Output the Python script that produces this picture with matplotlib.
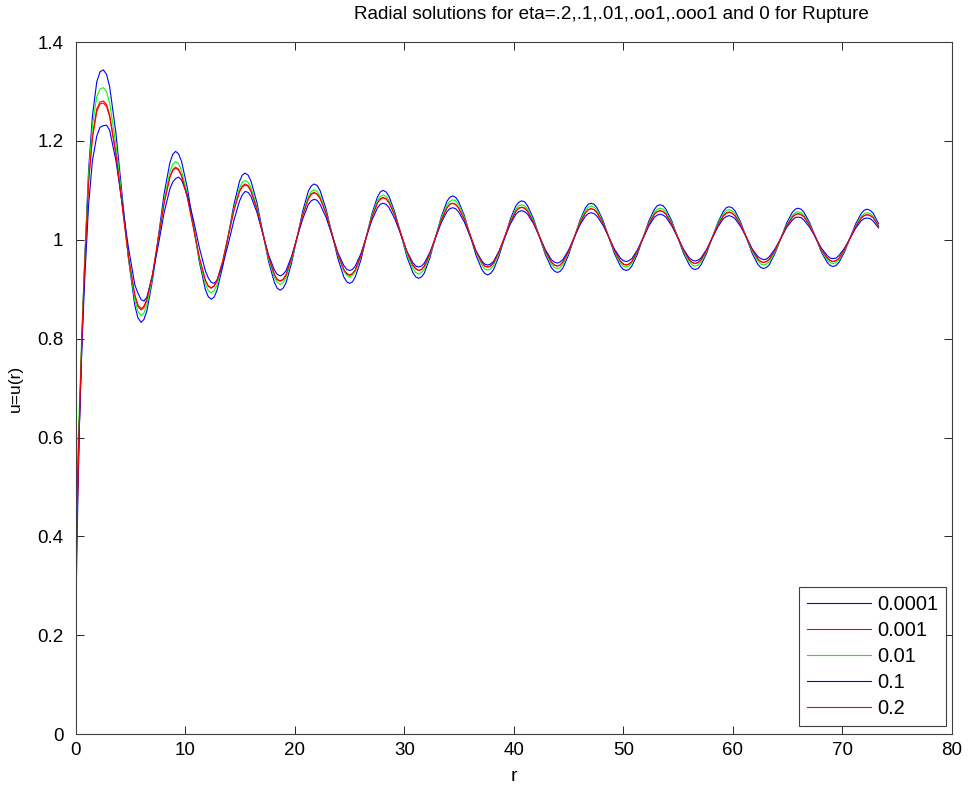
import matplotlib
matplotlib.use("Agg")
import matplotlib.pyplot as plt

plt.rcParams['font.family'] = ['Liberation Sans', 'DejaVu Sans']

r = [0, 0.15, 0.3, 0.55, 0.8, 1.15, 1.5, 1.9, 2.2,
     2.5, 2.79, 3.075, 3.65, 4.225, 4.8, 5.375, 5.66,
     5.95, 6.21, 6.475, 7.0, 7.525, 8.05, 8.575, 8.84,
     9.1, 9.37, 9.64, 10.18, 10.73, 11.27, 11.81, 12.08,
     12.35, 12.61, 12.87, 13.38, 13.9, 14.42, 14.93, 15.19,
     15.45, 15.72, 15.98, 16.52, 17.05, 17.58, 18.12, 18.38,
     18.65, 18.91, 19.17, 19.68, 20.2, 20.72, 21.23, 21.49,
     21.75, 22.02, 22.29, 22.83, 23.38, 23.92, 24.46, 24.73,
     25.0, 25.25, 25.51, 26.02, 26.53, 27.03, 27.54, 27.8,
     28.05, 28.32, 28.59, 29.13, 29.68, 30.22, 30.76, 31.03,
     31.3, 31.56, 31.82, 32.33, 32.85, 33.37, 33.88, 34.14,
     34.4, 34.67, 34.93, 35.47, 36.0, 36.53, 37.07, 37.33,
     37.6, 37.86, 38.12, 38.63, 39.15, 39.67, 40.18, 40.44,
     40.7, 40.97, 41.24, 41.78, 42.33, 42.87, 43.41, 43.68,
     43.95, 44.21, 44.47, 44.98, 45.5, 46.02, 46.53, 46.79,
     47.05, 47.32, 47.58, 48.12, 48.65, 49.18, 49.72, 49.98,
     50.25, 50.51, 50.77, 51.28, 51.8, 52.32, 52.83, 53.09,
     53.35, 53.62, 53.88, 54.42, 54.95, 55.48, 56.02, 56.28,
     56.55, 56.81, 57.07, 57.58, 58.1, 58.62, 59.13, 59.39,
     59.65, 59.91, 60.18, 60.7, 61.23, 61.75, 62.28, 62.54,
     62.8, 63.06, 63.33, 63.85, 64.38, 64.9, 65.43, 65.69,
     65.95, 66.22, 66.48, 67.02, 67.55, 68.08, 68.62, 68.88,
     69.15, 69.41, 69.67, 70.18, 70.7, 71.22, 71.73, 71.99,
     72.25, 72.52, 72.8, 73.3]

u_0001 = [0.26, 0.45, 0.61, 0.80, 0.96, 1.14, 1.25, 1.32, 1.34,
          1.344, 1.335, 1.310, 1.216, 1.088, 0.961, 0.867, 0.842,
          0.833, 0.839, 0.856, 0.920, 1.006, 1.093, 1.156, 1.173,
          1.179, 1.174, 1.159, 1.104, 1.029, 0.955, 0.900, 0.885,
          0.880, 0.884, 0.897, 0.944, 1.008, 1.071, 1.118, 1.131,
          1.135, 1.131, 1.119, 1.076, 1.016, 0.957, 0.914, 0.902,
          0.898, 0.902, 0.912, 0.952, 1.006, 1.059, 1.099, 1.109,
          1.113, 1.110, 1.100, 1.063, 1.012, 0.962, 0.925, 0.915,
          0.912, 0.915, 0.925, 0.959, 1.006, 1.053, 1.087, 1.097,
          1.100, 1.097, 1.088, 1.055, 1.011, 0.966, 0.934, 0.925,
          0.922, 0.925, 0.933, 0.964, 1.006, 1.047, 1.078, 1.086,
          1.089, 1.086, 1.078, 1.049, 1.009, 0.969, 0.940, 0.932,
          0.929, 0.932, 0.939, 0.967, 1.004, 1.042, 1.069, 1.076,
          1.079, 1.077, 1.069, 1.043, 1.006, 0.970, 0.944, 0.937,
          0.934, 0.936, 0.943, 0.969, 1.004, 1.039, 1.065, 1.072,
          1.074, 1.072, 1.065, 1.040, 1.006, 0.972, 0.947, 0.940,
          0.938, 0.940, 0.947, 0.971, 1.005, 1.038, 1.062, 1.069,
          1.071, 1.069, 1.062, 1.038, 1.005, 0.973, 0.949, 0.942,
          0.940, 0.942, 0.949, 0.972, 1.004, 1.035, 1.058, 1.065,
          1.067, 1.065, 1.059, 1.036, 1.004, 0.973, 0.950, 0.944,
          0.942, 0.944, 0.950, 0.973, 1.003, 1.034, 1.056, 1.062,
          1.064, 1.062, 1.056, 1.034, 1.005, 0.975, 0.954, 0.948,
          0.946, 0.948, 0.954, 0.975, 1.004, 1.033, 1.054, 1.060,
          1.062, 1.060, 1.054, 1.033]

u_001 = [0.31, 0.48, 0.62, 0.81, 0.95, 1.12, 1.21, 1.265, 1.279,
         1.281, 1.274, 1.253, 1.175, 1.070, 0.964, 0.886, 0.865,
         0.858, 0.863, 0.877, 0.930, 1.003, 1.075, 1.128, 1.142,
         1.147, 1.143, 1.131, 1.086, 1.025, 0.963, 0.918, 0.906,
         0.902, 0.906, 0.916, 0.955, 1.008, 1.060, 1.099, 1.109,
         1.113, 1.110, 1.100, 1.064, 1.015, 0.965, 0.929, 0.919,
         0.916, 0.919, 0.928, 0.961, 1.006, 1.051, 1.084, 1.093,
         1.096, 1.093, 1.085, 1.054, 1.012, 0.970, 0.939, 0.931,
         0.928, 0.931, 0.939, 0.968, 1.007, 1.047, 1.075, 1.083,
         1.086, 1.083, 1.076, 1.049, 1.012, 0.975, 0.948, 0.941,
         0.938, 0.940, 0.947, 0.972, 1.006, 1.040, 1.065, 1.072,
         1.074, 1.072, 1.065, 1.042, 1.010, 0.977, 0.954, 0.947,
         0.945, 0.947, 0.953, 0.975, 1.006, 1.036, 1.058, 1.064,
         1.066, 1.064, 1.058, 1.036, 1.007, 0.977, 0.955, 0.949,
         0.947, 0.949, 0.955, 0.976, 1.005, 1.034, 1.055, 1.061,
         1.063, 1.061, 1.055, 1.035, 1.006, 0.978, 0.957, 0.951,
         0.949, 0.951, 0.956, 0.977, 1.004, 1.032, 1.052, 1.057,
         1.059, 1.057, 1.052, 1.032, 1.006, 0.979, 0.959, 0.954,
         0.952, 0.954, 0.959, 0.978, 1.004, 1.030, 1.049, 1.054,
         1.056, 1.054, 1.049, 1.031, 1.005, 0.980, 0.961, 0.956,
         0.954, 0.956, 0.961, 0.979, 1.004, 1.028, 1.046, 1.051,
         1.053, 1.051, 1.047, 1.029, 1.005, 0.980, 0.963, 0.958,
         0.956, 0.958, 0.962, 0.980, 1.004, 1.027, 1.045, 1.049,
         1.051, 1.049, 1.045, 1.028]

u_01 = [0.45, 0.56, 0.66, 0.82, 0.96, 1.13, 1.23, 1.29, 1.305,
        1.308, 1.300, 1.277, 1.193, 1.078, 0.962, 0.878, 0.855,
        0.847, 0.852, 0.868, 0.925, 1.003, 1.080, 1.137, 1.153,
        1.158, 1.154, 1.140, 1.092, 1.025, 0.959, 0.911, 0.897,
        0.893, 0.897, 0.908, 0.950, 1.007, 1.063, 1.105, 1.116,
        1.120, 1.116, 1.106, 1.067, 1.015, 0.962, 0.924, 0.914,
        0.910, 0.913, 0.923, 0.958, 1.006, 1.053, 1.088, 1.098,
        1.101, 1.098, 1.089, 1.057, 1.013, 0.969, 0.937, 0.928,
        0.925, 0.928, 0.936, 0.967, 1.008, 1.050, 1.080, 1.088,
        1.091, 1.088, 1.080, 1.051, 1.011, 0.971, 0.942, 0.934,
        0.931, 0.934, 0.941, 0.969, 1.006, 1.044, 1.071, 1.078,
        1.081, 1.079, 1.072, 1.046, 1.010, 0.975, 0.949, 0.941,
        0.939, 0.941, 0.948, 0.972, 1.005, 1.038, 1.062, 1.069,
        1.071, 1.069, 1.062, 1.039, 1.007, 0.974, 0.951, 0.944,
        0.942, 0.944, 0.950, 0.974, 1.005, 1.037, 1.060, 1.066,
        1.068, 1.066, 1.060, 1.037, 1.006, 0.976, 0.953, 0.947,
        0.945, 0.947, 0.953, 0.975, 1.005, 1.034, 1.056, 1.062,
        1.064, 1.062, 1.056, 1.035, 1.006, 0.976, 0.955, 0.949,
        0.947, 0.949, 0.955, 0.976, 1.004, 1.033, 1.053, 1.059,
        1.061, 1.059, 1.054, 1.033, 1.005, 0.977, 0.957, 0.951,
        0.949, 0.951, 0.956, 0.976, 1.003, 1.030, 1.050, 1.055,
        1.057, 1.055, 1.050, 1.031, 1.005, 0.978, 0.959, 0.954,
        0.952, 0.954, 0.959, 0.978, 1.004, 1.029, 1.048, 1.053,
        1.055, 1.053, 1.048, 1.030]

u_1 = [0.37, 0.50, 0.62, 0.79, 0.92, 1.07, 1.16, 1.21, 1.228,
       1.231, 1.232, 1.222, 1.160, 1.073, 0.983, 0.909, 0.892,
       0.879, 0.876, 0.884, 0.929, 0.990, 1.055, 1.103, 1.117,
       1.124, 1.127, 1.121, 1.090, 1.040, 0.984, 0.938, 0.923,
       0.914, 0.912, 0.918, 0.947, 0.991, 1.039, 1.078, 1.091,
       1.098, 1.096, 1.088, 1.056, 1.013, 0.970, 0.939, 0.930,
       0.927, 0.930, 0.937, 0.966, 1.005, 1.043, 1.072, 1.079,
       1.082, 1.080, 1.072, 1.046, 1.010, 0.974, 0.948, 0.940,
       0.938, 0.940, 0.947, 0.972, 1.006, 1.040, 1.065, 1.072,
       1.074, 1.072, 1.065, 1.042, 1.010, 0.977, 0.954, 0.947,
       0.945, 0.947, 0.953, 0.975, 1.005, 1.035, 1.057, 1.063,
       1.065, 1.063, 1.057, 1.036, 1.007, 0.978, 0.957, 0.951,
       0.949, 0.951, 0.956, 0.977, 1.004, 1.032, 1.052, 1.057,
       1.059, 1.057, 1.052, 1.033, 1.006, 0.980, 0.960, 0.955,
       0.953, 0.955, 0.960, 0.979, 1.004, 1.030, 1.048, 1.053,
       1.055, 1.053, 1.048, 1.030, 1.006, 0.981, 0.963, 0.958,
       0.956, 0.958, 0.962, 0.980, 1.004, 1.028, 1.046, 1.050,
       1.052, 1.050, 1.046, 1.028, 1.005, 0.981, 0.963, 0.959,
       0.957, 0.959, 0.963, 0.980, 1.003, 1.026, 1.043, 1.047,
       1.049, 1.047, 1.043, 1.027, 1.005, 0.982, 0.966, 0.962,
       0.960, 0.961, 0.966, 0.982, 1.003, 1.025, 1.040, 1.045,
       1.046, 1.045, 1.040, 1.025, 1.004, 0.983, 0.968, 0.963,
       0.962, 0.963, 0.968, 0.983, 1.003, 1.024, 1.039, 1.043,
       1.044, 1.043, 1.038, 1.024]

u_2 = [0.33, 0.49, 0.63, 0.81, 0.95, 1.115, 1.205, 1.26, 1.275,
       1.277, 1.270, 1.249, 1.173, 1.069, 0.965, 0.889, 0.868,
       0.861, 0.866, 0.880, 0.932, 1.003, 1.074, 1.126, 1.140,
       1.145, 1.141, 1.129, 1.085, 1.024, 0.964, 0.919, 0.907,
       0.903, 0.907, 0.917, 0.955, 1.007, 1.059, 1.097, 1.107,
       1.111, 1.108, 1.098, 1.063, 1.014, 0.966, 0.930, 0.920,
       0.917, 0.920, 0.929, 0.962, 1.006, 1.051, 1.083, 1.092,
       1.095, 1.092, 1.084, 1.054, 1.012, 0.971, 0.940, 0.932,
       0.929, 0.932, 0.939, 0.968, 1.007, 1.046, 1.075, 1.082,
       1.085, 1.083, 1.075, 1.049, 1.012, 0.976, 0.949, 0.942,
       0.938, 0.940, 0.947, 0.972, 1.006, 1.040, 1.065, 1.072,
       1.074, 1.072, 1.065, 1.042, 1.010, 0.977, 0.954, 0.947,
       0.945, 0.947, 0.953, 0.975, 1.006, 1.036, 1.058, 1.064,
       1.066, 1.064, 1.058, 1.036, 1.007, 0.977, 0.955, 0.949,
       0.947, 0.949, 0.955, 0.976, 1.005, 1.034, 1.055, 1.061,
       1.063, 1.061, 1.055, 1.035, 1.006, 0.978, 0.957, 0.951,
       0.949, 0.951, 0.956, 0.977, 1.004, 1.032, 1.052, 1.057,
       1.059, 1.057, 1.052, 1.032, 1.006, 0.979, 0.959, 0.954,
       0.952, 0.954, 0.959, 0.978, 1.004, 1.030, 1.049, 1.054,
       1.056, 1.054, 1.049, 1.031, 1.005, 0.980, 0.961, 0.956,
       0.954, 0.956, 0.961, 0.979, 1.004, 1.028, 1.046, 1.051,
       1.053, 1.051, 1.047, 1.029, 1.005, 0.980, 0.963, 0.958,
       0.956, 0.958, 0.962, 0.980, 1.004, 1.027, 1.045, 1.049,
       1.051, 1.049, 1.045, 1.028]

labels = ['0.0001', '0.001', '0.01', '0.1', '0.2']
series = [u_0001, u_001, u_01, u_1, u_2]
colors = ['#0000ff', '#ff0000', '#00ff00', '#0000ff', '#ff0000']

title = 'Radial solutions for eta=.2,.1,.01,.oo1,.ooo1 and 0 for Rupture'
xticks = [0, 10, 20, 30, 40, 50, 60, 70, 80]
yticks = [0, 0.2, 0.4, 0.6, 0.8, 1.0, 1.2, 1.4]
yticklabels = ['0', '0.2', '0.4', '0.6', '0.8', '1', '1.2', '1.4']

fig = plt.figure(figsize=(9.69, 7.88), dpi=100)
fig.patch.set_facecolor('white')
ax = fig.add_axes([0.0784, 0.0685, 0.904, 0.878])

for y, c, lab in zip(series, colors, labels):
    ax.plot(r, y, color=c, linewidth=0.8, label=lab)

ax.set_xlim(0, 80)
ax.set_ylim(0, 1.4)
ax.set_xticks(xticks)
ax.set_xticklabels([str(t) for t in xticks])
ax.set_yticks(yticks)
ax.set_yticklabels(yticklabels)
ax.tick_params(direction='in', length=6, width=0.6, top=True, right=True,
               labelsize=13.5, colors='black')
ax.tick_params(axis='y', pad=9)
ax.tick_params(axis='x', pad=6)
for s in ax.spines.values():
    s.set_linewidth(0.8)
    s.set_color('#404040')

ax.set_title(title, fontsize=13.6, pad=17, x=0.611)
ax.set_xlabel('r', fontsize=14, labelpad=6)
ax.set_ylabel('u=u(r)', fontsize=12.5, labelpad=10)

leg = ax.legend(loc='lower right', bbox_to_anchor=(0.993, 0.0116),
                borderaxespad=0, fancybox=False, framealpha=1,
                edgecolor='#404040', fontsize=14.4, handlelength=3.2,
                labelspacing=0.36, handletextpad=0.3, borderpad=0.38)
leg.get_frame().set_linewidth(0.8)

fig.savefig('out.png', dpi=100, facecolor='white')
